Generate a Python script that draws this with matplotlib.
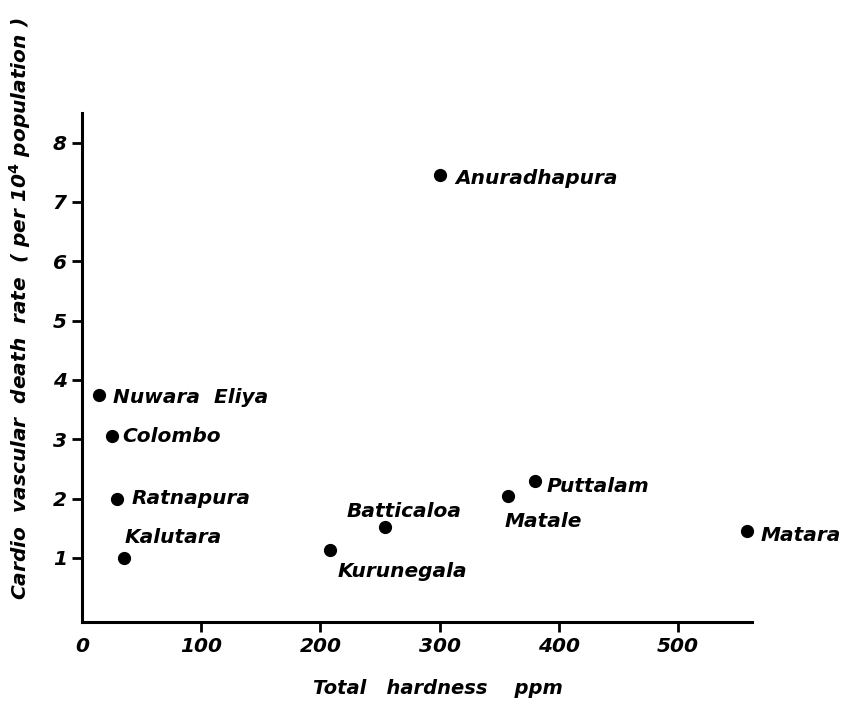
import matplotlib
matplotlib.use("Agg")
import matplotlib.pyplot as plt

# Data
districts = ["Anuradhapura", "Nuwara Eliya", "Colombo", "Ratnapura", "Kalutara",
             "Batticaloa", "Kurunegala", "Matale", "Puttalam", "Matara"]
hardness_ppm = [300, 14, 25, 29, 35, 254, 208, 357, 380, 558]
death_rate = [7.45, 3.75, 3.05, 2.0, 1.0, 1.52, 1.13, 2.05, 2.3, 1.45]

x_ticks = [0, 100, 200, 300, 400, 500]
y_ticks = [1, 2, 3, 4, 5, 6, 7, 8]

# label offsets in pixels (dx right, dy down)
label_pos = {
    "Anuradhapura": (16, 3),
    "Nuwara Eliya": (14, 3),
    "Colombo": (10, 0),
    "Ratnapura": (15, 0),
    "Kalutara": (1, -20),
    "Batticaloa": (-38, -16),
    "Kurunegala": (8, 21),
    "Matale": (-3, 26),
    "Puttalam": (12, 6),
    "Matara": (13, 4),
}

W, H = 857, 705
fig = plt.figure(figsize=(W / 100, H / 100), dpi=100)
ax = fig.add_axes([82 / W, (H - 622) / H, (752 - 82) / W, (622 - 113) / H])

font = dict(family="DejaVu Sans", style="italic", weight="bold")

ax.plot(hardness_ppm, death_rate, "o", color="black", markersize=8.5, clip_on=False)

px2pt = 0.72
for name, x, y in zip(districts, hardness_ppm, death_rate):
    dx, dy = label_pos[name]
    ax.annotate(name.replace(" ", "  "), (x, y), xytext=(dx * px2pt, -dy * px2pt),
                textcoords="offset points", ha="left", va="center",
                fontsize=14.5, **font)

ax.set_xlim(0, 562)
ax.set_ylim(-0.08, 8.5)
ax.set_xticks(x_ticks)
ax.set_yticks(y_ticks)
ax.set_xticklabels([str(t) for t in x_ticks], fontsize=14.5, **font)
ax.set_yticklabels([str(t) for t in y_ticks], fontsize=14.5, **font)

for s in ["top", "right"]:
    ax.spines[s].set_visible(False)
for s in ["left", "bottom"]:
    ax.spines[s].set_linewidth(2.2)
ax.tick_params(axis="both", direction="out", length=7, width=2, pad=4)
ax.xaxis.get_major_ticks()[0].tick1line.set_visible(False)

ax.set_xlabel("Total   hardness    ppm", fontsize=14, **font)
ax.xaxis.set_label_coords(0.531, -0.112)
ax.set_ylabel("Cardio  vascular  death  rate  ( per 10$^{\\mathbf{4}}$ population )",
              fontsize=14.5, **font)
ax.yaxis.set_label_coords(-0.093, 0.615)
ax.yaxis.label.set_va("center")

fig.savefig("out.png", dpi=100, facecolor="white")
